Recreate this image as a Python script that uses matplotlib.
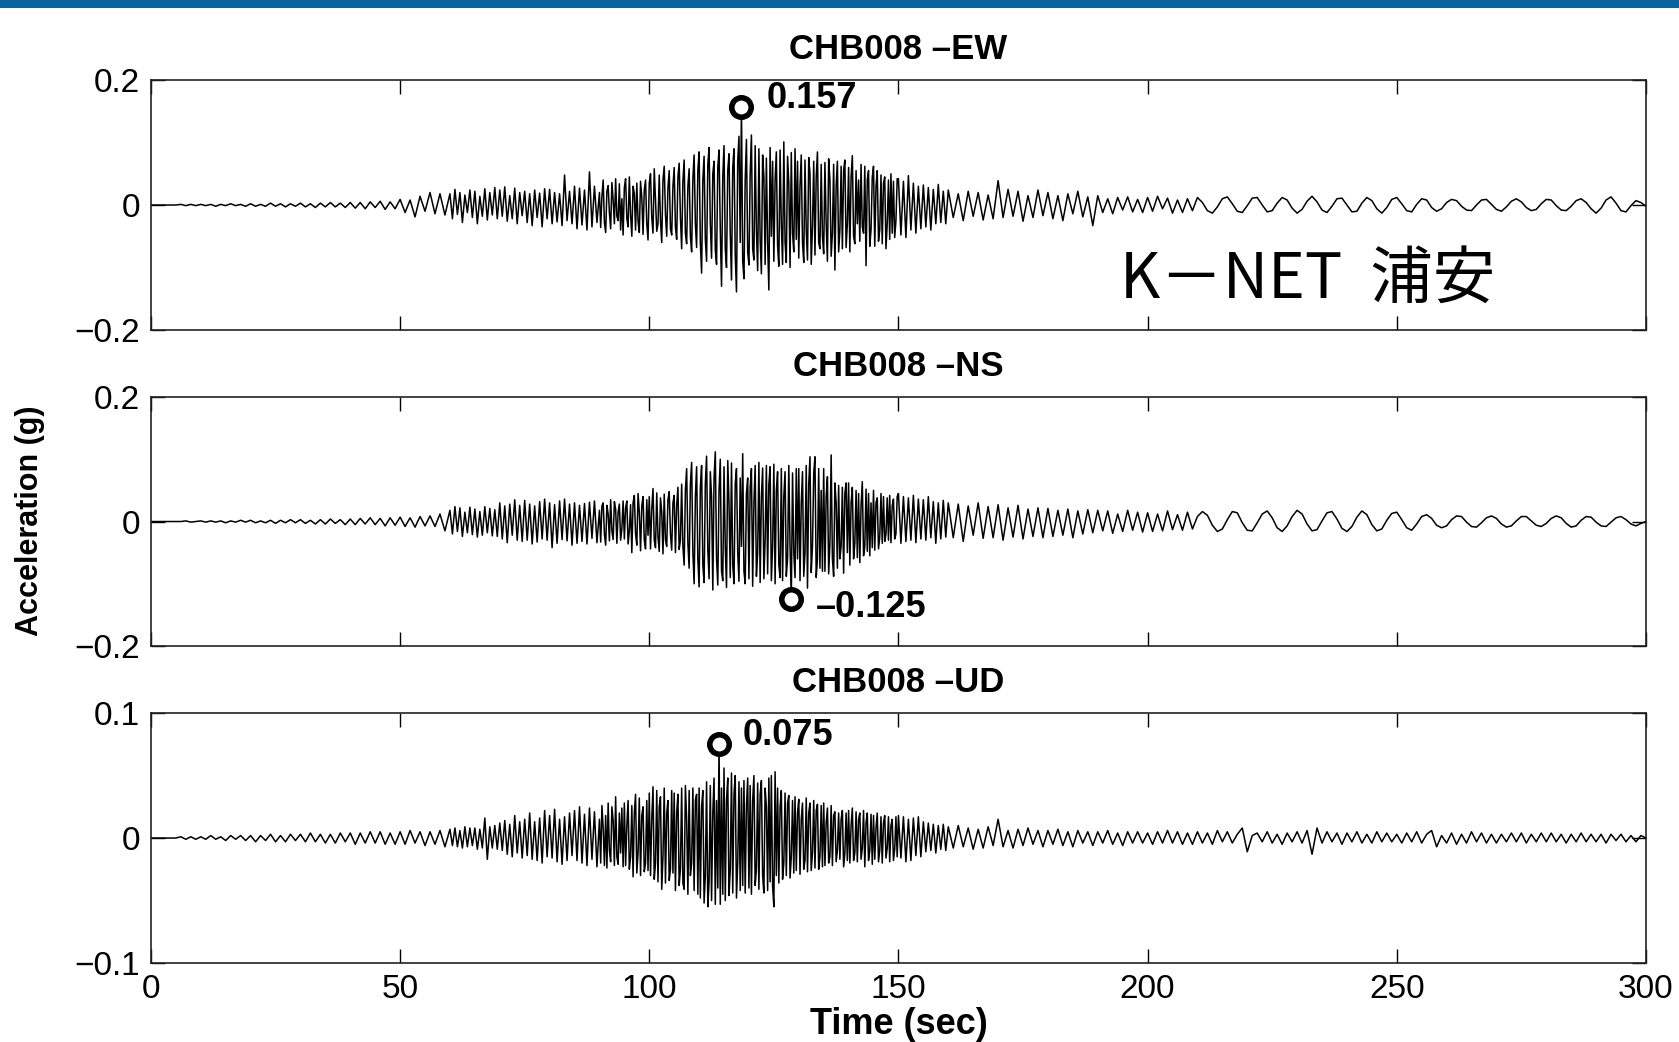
"""
Three component acceleration record, K-NET station CHB008 (Urayasu).
Values are read off the printed traces, in milli-g.
"""

import numpy as np
import matplotlib
matplotlib.use("Agg")
import matplotlib.pyplot as plt
from matplotlib.patches import Rectangle

# Sample times [s]: coarse in the quiet parts, finest in the strong motion
t = np.concatenate([np.arange(0, 60, 1.0),
                    np.arange(60, 90, 0.5),
                    np.arange(90, 150, 0.25),
                    np.arange(150, 160, 0.5),
                    np.arange(160, 301, 1.0)])

# East-West component [mg]
ew_mg = [
    # 0 s .. 60 s, every 1 s
    0, 0, 0, 0, 0, 0, 1, -1, 1, -1,
    1, -1, 1, -2, 1, -1, 2, -1, 1, -2,
    2, -2, 1, -2, 3, -2, 2, -3, 2, -2,
    3, -3, 2, -4, 3, -3, 4, -3, 3, -4,
    4, -5, 4, -6, 5, -4, 6, -7, 5, -6,
    9, -12, 8, -19, 14, -10, 20, -14, 18, -16,
    # 60 s .. 90 s, every 0.5 s
    18, -22, 25, -15, 20, -28, 16, -12, 24, -20,
    22, -30, 14, -18, 26, -24, 20, -16, 28, -22,
    24, -18, 29, -26, 15, -22, 27, -30, 20, -17,
    22, -28, 18, -33, 24, -20, 19, -35, 26, -22,
    25, -30, 20, -27, 18, -33, 48, -25, 22, -30,
    30, -38, 27, -32, 24, -40, 53, -35, 30, -28,
    # 90 s .. 150 s, every 0.25 s
    20, -36, 14, 40, -28, -44, 22, 31, -12, -38, 36, 8, -30, 42, -18, -25, 34, -40, 10, -48,
    28, 42, -22, -35, 45, -15, -50, 30, 18, -40, 35, -26, -44, 38, 12, -47, 24, 40, -30, -56,
    35, 50, -20, -45, 58, 10, -42, -30, 48, -25, -60, 40, 62, -15, -50, 28, 55, -38, -48, 30,
    60, -35, -55, 45, 67, -20, -70, 38, 72, -45, -62, 30, 58, -50, -75, 42, 80, -30, -68, 55,
    85, -60, -109, 40, 78, -55, -90, 65, 92, -30, -85, 50, 70, -72, -95, 60, 88, -40, -130, 45,
    95, -70, -100, 55, 82, -45, -120, 60, 90, -80, -139, 70, 110, -60, 157, -90, -118, 40, 105, -75,
    -96, 50, 112, -70, -88, 95, -40, -105, 90, -55, -110, 80, 45, -95, 75, -60, -136, 92, -50, 70,
    -90, 40, 85, -65, -98, 88, -30, -95, 101, -60, -92, 78, 35, -100, 84, -45, -75, 90, -55, 70,
    -85, 30, 80, -60, -92, 72, -40, -88, 76, 50, -95, -35, 70, -80, 45, 85, -60, -70, 65, -50,
    -78, 68, -30, -90, 74, 40, -82, -45, 65, -104, 30, 70, -75, -40, 62, -70, 55, 72, -68, -30,
    60, -75, 45, 79, -50, -62, 55, -30, 40, -58, 65, -35, -45, 62, -97, 40, 55, -66, -40, 45,
    62, -66, 30, 55, -58, -40, 48, -62, 35, 45, -70, -30, 40, -55, 50, -45, 38, -52, -25, 42,
    # 150 s .. 160 s, every 0.5 s
    42, -48, 38, -52, 47, -40, 35, -45, 30, -38,
    32, -35, 28, -40, 25, -30, 33, -28, 22, -30,
    # 160 s .. 300 s, every 1 s
    24, -20, 18, -25, 22, -18, 20, -24, 16, -22,
    39, -20, 25, -18, 22, -26, 15, -20, 24, -17,
    20, -22, 15, -25, 18, -14, 22, -19, 13, -33,
    15, -12, 10, -14, 12, -8, 13, -11, 9, -12,
    12, -10, 14, -6, 11, -13, 8, -12, 10, -9,
    12, 4, -9, -13, -3, 10, 13, 2, -10, -12,
    -1, 11, 12, 0, -11, -9, 3, 12, 8, -5,
    -13, -7, 6, 14, 5, -8, -12, -2, 10, 11,
    0, -11, -10, 3, 12, 7, -6, -13, -4, 9,
    12, 2, -9, -11, 1, 10, 8, -4, -10, -6,
    4, 9, 7, -2, -8, -9, 0, 8, 9, 1,
    -7, -10, -3, 6, 10, 5, -4, -9, -7, 2,
    9, 8, -1, -8, -9, -2, 7, 10, 4, -6,
    -13, -5, 8, 13, 3, -9, -11, -1, 7, 4,
    -2]

# North-South component [mg]
ns_mg = [
    0, 0, 0, 0, 0, 0, 0, 1, -1, 0,
    1, -1, 1, -1, 1, -2, 1, -1, 2, -1,
    2, -2, 1, -2, 2, -3, 2, -2, 3, -2,
    3, -3, 2, -4, 3, -4, 4, -3, 3, -5,
    4, -5, 5, -4, 6, -5, 5, -7, 6, -6,
    7, -8, 6, -9, 8, -7, 9, -8, 12, -15,
    18, -20, 24, -16, 22, -24, 15, -18, 23, -21,
    20, -25, 16, -22, 24, -18, 21, -23, 19, -24,
    30, -28, 25, -34, 28, -22, 35, -30, 26, -32,
    34, -30, 28, -36, 25, -33, 32, -28, 36, -30,
    30, -42, 27, -35, 33, -29, 36, -31, 28, -38,
    30, -35, 26, -32, 29, -36, 31, -27, 33, -34,
    18, -33, 25, 30, -20, -38, 26, 12, -31, 35, -15, -29, 32, 20, -35, 15, 28, -30, -12, 33,
    -28, 22, 33, -36, -15, 27, -50, 30, 42, -20, -38, 45, 15, -47, 25, 40, -30, -44, 35, -22,
    40, -44, 20, 53, -30, -42, 46, -25, -48, 38, 15, -52, 44, -30, -40, 35, 48, -20, -46, 30,
    42, -50, 25, 55, -45, -30, 60, -40, -70, 50, 85, -35, -75, 60, 95, -50, -100, 40, 88, -60,
    -105, 55, 90, -70, -98, 60, 105, -45, -92, 80, 40, -110, 70, 112, -60, -102, 50, 100, -80, -95,
    88, -40, -106, 98, 30, -90, 94, -70, -100, 60, 85, -50, -96, 70, -40, 109, -80, -100, 45, 70,
    -92, 55, 85, -104, 30, 90, -88, -50, 95, -98, 40, 86, -92, -30, 90, -84, 60, 88, -95, -40,
    92, -100, 50, 80, -70, -90, 85, -95, 40, 80, -88, -60, 90, -40, -125, 78, -50, -90, 85, -60,
    85, -95, 30, 80, -88, -50, 90, -107, 60, 104, -82, -40, 78, 104, -90, -60, 85, -75, 50, -80,
    85, -80, 40, 72, -84, -35, 107, -60, -88, 62, 30, -75, 58, -60, -40, 55, -83, 45, 62, -50,
    62, -70, 30, 55, -60, -35, 50, -58, 45, -66, 25, 64, -55, -40, 52, -48, 45, -55, 30, -42,
    50, -46, 30, 38, -44, -25, 45, -35, 40, -32, -20, 38, -30, 42, -34, 25, 36, -28, -20, 40,
    45, -35, 40, -32, 38, -30, 42, -34, 36, -28,
    35, -30, 40, -26, 32, -35, 30, -28, 34, -25,
    30, -26, 28, -32, 25, -22, 30, -27, 24, -26,
    27, -30, 22, -25, 26, -28, 20, -24, 22, -26,
    21, -24, 18, -22, 20, -26, 17, -20, 19, -18,
    18, -15, 17, -19, 12, -16, 18, -14, 15, -17,
    14, -16, 12, -15, 17, -13, 11, -14, 15, -12,
    8, 16, 10, -6, -16, -12, 3, 16, 14, -2,
    -14, -15, -2, 12, 17, 6, -10, -16, -7, 8,
    18, 12, -4, -15, -13, 1, 14, 16, 4, -11,
    -16, -8, 7, 17, 11, -5, -15, -12, 2, 13,
    15, 3, -10, -14, -4, 8, 11, 5, -6, -10,
    -7, 3, 9, 8, -1, -8, -9, -2, 6, 9,
    5, -4, -9, -7, 1, 8, 8, 1, -6, -8,
    -3, 5, 9, 6, -3, -9, -7, 2, 8, 7,
    -1, -7, -8, -1, 6, 8, 3, -4, -7, -3,
    0]

# Up-Down component [mg]
ud_mg = [
    0, 0, 0, 0, 0, 0, 1, -1, 1, -1,
    1, -1, 2, -1, 1, -2, 2, -1, 2, -2,
    2, -3, 2, -2, 3, -3, 2, -3, 3, -2,
    3, -3, 4, -3, 3, -4, 3, -4, 4, -3,
    4, -5, 4, -4, 5, -4, 5, -5, 4, -5,
    5, -5, 6, -4, 5, -6, 5, -5, 6, -7,
    7, -6, 8, -7, 6, -8, 9, -7, 8, -6,
    8, -9, 7, -8, 16, -17, 9, -8, 10, -9,
    12, -10, 14, -13, 11, -15, 18, -12, 13, -16,
    15, -14, 20, -17, 13, -18, 16, -20, 22, -15,
    18, -16, 23, -19, 15, -21, 17, -18, 20, -14,
    22, -18, 25, -20, 19, -22, 24, -17, 21, -23,
    15, -20, 26, 8, -22, 18, -24, 28, -10, -19, 25, 14, -22, 33, -15, -21, 20, -12, 24, -23,
    28, -22, 10, 30, -25, -15, 26, -31, 20, 35, -28, -12, 32, -30, 18, 25, -27, -20, 30, -26,
    36, -30, 15, 41, -33, -20, 38, -35, 25, 33, -41, -15, 40, -36, 20, 30, -34, -25, 38, -28,
    36, -42, 20, 35, -38, -25, 40, -36, -41, 42, 15, -45, 38, -30, -20, 40, -42, 30, 35, -45,
    40, -48, 25, 38, -52, -30, 45, -55, -35, 42, -50, 20, 48, -53, 30, -40, 75, -53, 40, -45,
    56, -50, 30, 48, -46, -25, 52, -44, 35, 50, -48, -20, 45, -42, 40, -38, 46, -44, 25, 48,
    -40, 42, -45, 30, 50, -38, -25, 44, -41, 35, 46, -30, -44, 40, 25, -42, 48, -35, 50, -38,
    -55, 53, -30, 40, -36, 25, 38, -33, -20, 36, -30, 28, 34, -32, -15, 30, -28, 33, -26, 20,
    31, -29, 15, 28, -25, -18, 32, -27, 20, 28, -26, -12, 30, -24, 22, 27, -25, -15, 26, -23,
    28, -22, 12, 24, -20, -15, 26, -22, 18, 21, -19, -10, 20, -17, 15, 22, -23, -12, 20, -18,
    22, -20, 10, 24, -18, -12, 21, -19, 15, 20, -17, -8, 22, -23, 12, 20, -18, -10, 19, -21,
    18, -17, 8, 20, -19, -10, 17, -20, 12, 18, -16, -8, 17, -19, 10, 15, -18, -9, 17, -15,
    18, -16, 17, -19, 15, -18, 16, -14, 17, -15,
    13, -11, 12, -10, 11, -12, 10, -9, 11, -10,
    9, -8, 10, -7, 8, -9, 7, -8, 9, -6,
    15, -7, 6, -8, 7, -6, 8, -5, 6, -7,
    6, -5, 7, -6, 5, -7, 6, -4, 5, -6,
    5, -4, 6, -5, 4, -6, 5, -4, 5, -4,
    4, -5, 5, -4, 6, -4, 5, -5, 4, -5,
    5, -4, 4, -5, 6, -3, 5, -4, 3, 8,
    -11, 2, 4, -3, 5, -4, 3, -5, 4, -3,
    5, -4, 6, -13, 8, -4, 5, -3, 4, -5,
    4, -3, 5, -4, 3, -4, 5, -3, 4, -3,
    3, -4, 4, -3, 5, -4, 3, 6, -7, 2,
    -4, 4, -5, 3, -4, 5, -3, 4, -4, 3,
    -4, 3, -3, 4, -3, 4, -4, 3, -3, 4,
    -3, 4, -3, 3, -4, 3, -3, 4, -3, 3,
    -3, 3, -4, 3, -2, 3, -3, 2, -3, 2,
    0]

station = "CHB008"
components = ["EW", "NS", "UD"]
records = [ew_mg, ns_mg, ud_mg]
ylims = [0.2, 0.2, 0.1]
xticks = [0, 50, 100, 150, 200, 250, 300]

# where each peak label sits relative to its marker [points]
label_offsets = [(18, 6), (18, -6), (17, 6)]

plt.rcParams['font.family'] = ['Liberation Sans', 'DejaVu Sans']

fig = plt.figure(figsize=(16.79, 10.42), dpi=100)

# blue band along the top edge of the slide
fig.add_artist(Rectangle((0, 1 - 8 / 1042.0), 1, 8 / 1042.0,
                         transform=fig.transFigure, color='#0b639b', lw=0))

# axes boxes [left, bottom, width, height]
boxes = [[0.0899, 0.6833, 0.8904, 0.2399],
         [0.0899, 0.3800, 0.8904, 0.2390],
         [0.0899, 0.0758, 0.8904, 0.2399]]

for i in range(3):
    ax = fig.add_axes(boxes[i])
    acc = np.array(records[i]) / 1000.0
    ax.plot(t, acc, color='k', lw=1.1)

    # mark the peak ground acceleration
    k = np.argmax(np.abs(acc))
    ax.plot(t[k], acc[k], 'o', ms=14, mfc='white', mec='k', mew=4, zorder=5)
    label = ("%.3f" % acc[k]).replace('-', '\u2013')
    ax.annotate(label, (t[k], acc[k]), xytext=label_offsets[i],
                textcoords='offset points', fontsize=26, fontweight='bold',
                ha='left', va='center')

    ax.set_xlim(0, 300)
    ax.set_ylim(-ylims[i], ylims[i])
    ax.set_xticks(xticks)
    yt = [-ylims[i], 0, ylims[i]]
    ax.set_yticks(yt)
    ax.set_yticklabels([("%g" % v).replace('-', '\u2212') for v in yt])
    if i < 2:
        ax.set_xticklabels([])
    ax.tick_params(direction='in', top=True, right=True, length=10,
                   width=1.0, labelsize=24, pad=8)
    for s in ax.spines.values():
        s.set_linewidth(1.2)
        s.set_color('#222222')
    ax.set_title(station + ' \u2013' + components[i], fontsize=25,
                 fontweight='bold', pad=15)

    if i == 0:
        ax.text(0.648, 0.20, 'K\uff0dNET  浦安', transform=ax.transAxes,
                fontsize=45, ha='left', va='center',
                family=['Noto Sans CJK JP', 'DejaVu Sans'])

fig.text(0.018, 0.5, 'Acceleration (g)', rotation=90, fontsize=22,
         fontweight='bold', ha='center', va='center')
fig.text(0.0899 + 0.8904 / 2, 0.017, 'Time (sec)', fontsize=26,
         fontweight='bold', ha='center', va='center')

fig.savefig('out.png', dpi=100)
print("File saved to 'out.png'")
